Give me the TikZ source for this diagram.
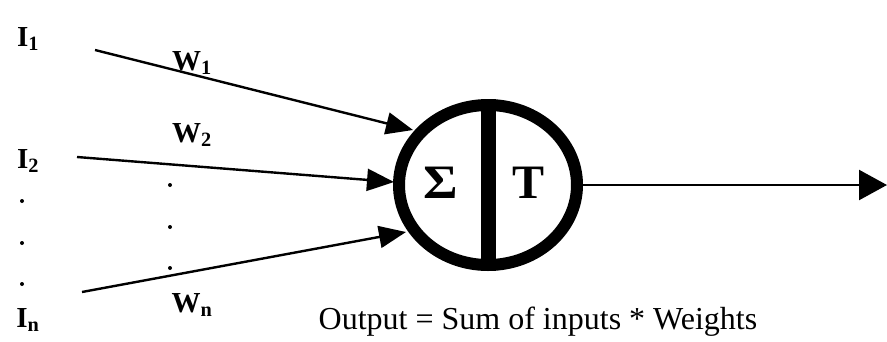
\documentclass[tikz,border=0pt]{standalone}
\usepackage{fontspec}
\setmainfont{Liberation Serif}
\usetikzlibrary{arrows.meta,shapes.geometric}
\begin{document}
\begin{tikzpicture}[x=1pt,y=-1pt,
  lbl/.style={font=\fontsize{29}{31}\selectfont\bfseries, inner sep=0pt},
  inarrow/.style={line width=2.4pt, -{Triangle[length=27pt,width=22pt]}},
  outarrow/.style={line width=2.4pt, -{Triangle[length=28pt,width=30pt]}},
  big/.style={font=\fontsize{48}{50}\selectfont\bfseries, inner sep=0pt}]
\useasboundingbox (0,0) rectangle (887,341);
% neuron
\node[ellipse, draw, line width=12pt, minimum width=178pt, minimum height=160pt, inner sep=0pt] (neuron) at (488,185) {};
\draw[line width=15pt] (neuron.north) -- (neuron.south);
\node[big, xscale=1.1] (sigma) at (441,183) {Σ};
\node[big] (tee) at (529,183) {T};
% inputs
\node[lbl] (i1) at (28,39) {I\textsubscript{1}};
\node[lbl] (i2) at (28,161) {I\textsubscript{2}};
\node[lbl] (in) at (28,320) {I\textsubscript{n}};
\node[lbl] (w1) at (192,63) {W\textsubscript{1}};
\node[lbl] (w2) at (192,135) {W\textsubscript{2}};
\node[lbl] (wn) at (192,305) {W\textsubscript{n}};
\foreach \y [count=\k] in {201,243,284} {\fill (22,\y) coordinate (ld\k) circle (2pt);}
\foreach \y [count=\k] in {185,227,268} {\fill (170,\y) coordinate (md\k) circle (2pt);}
\coordinate (s1) at (95,50);
\coordinate (e1) at (413,130);
\coordinate (s2) at (77,157);
\coordinate (e2) at (394,182);
\coordinate (s3) at (82,292);
\coordinate (e3) at (406,232);
\draw[inarrow] (s1) -- (e1);
\draw[inarrow] (s2) -- (e2);
\draw[inarrow] (s3) -- (e3);
% output
\coordinate (out) at (887,185);
\draw[outarrow] (neuron.east) -- (out);
\node[font=\fontsize{32}{34}\selectfont, inner sep=0pt] (formula) at (538,322) {Output = Sum of inputs * Weights};
\end{tikzpicture}
\end{document}
